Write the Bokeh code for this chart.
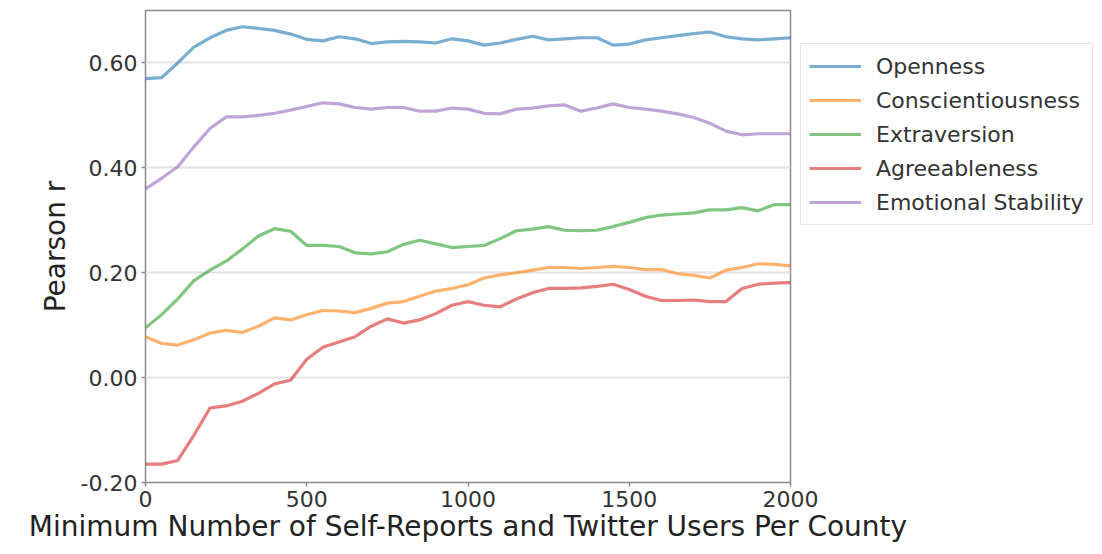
from bokeh.plotting import figure
from bokeh.models import Range1d, FixedTicker, PrintfTickFormatter, Legend, LegendItem
from bokeh.embed import file_html
from bokeh.resources import INLINE

x_vals = list(range(0, 2001, 50))

openness = [0.570, 0.572, 0.600, 0.630, 0.648, 0.662, 0.669, 0.666, 0.662, 0.655,
            0.645, 0.642, 0.650, 0.646, 0.637, 0.640, 0.641, 0.640, 0.638, 0.646,
            0.642, 0.634, 0.638, 0.645, 0.651, 0.644, 0.646, 0.648, 0.648, 0.634,
            0.636, 0.644, 0.648, 0.652, 0.656, 0.659, 0.650, 0.646, 0.644, 0.646, 0.648]

conscientiousness = [0.078, 0.065, 0.062, 0.072, 0.085, 0.090, 0.086, 0.098, 0.114, 0.110,
                     0.120, 0.128, 0.127, 0.124, 0.132, 0.142, 0.145, 0.155, 0.165, 0.170,
                     0.177, 0.190, 0.196, 0.200, 0.205, 0.210, 0.210, 0.208, 0.210, 0.212,
                     0.210, 0.206, 0.206, 0.198, 0.195, 0.190, 0.205, 0.210, 0.217, 0.216, 0.213]

extraversion = [0.095, 0.120, 0.150, 0.185, 0.205, 0.222, 0.245, 0.270, 0.284, 0.279,
                0.252, 0.252, 0.250, 0.238, 0.236, 0.240, 0.254, 0.262, 0.255, 0.248,
                0.250, 0.252, 0.265, 0.280, 0.283, 0.288, 0.281, 0.280, 0.281, 0.288,
                0.296, 0.305, 0.310, 0.312, 0.314, 0.320, 0.320, 0.324, 0.318, 0.330, 0.330]

agreeableness = [-0.165, -0.165, -0.158, -0.110, -0.058, -0.054, -0.045, -0.030, -0.012, -0.005,
                 0.035, 0.058, 0.068, 0.078, 0.098, 0.112, 0.104, 0.110, 0.122, 0.138,
                 0.145, 0.138, 0.135, 0.150, 0.162, 0.170, 0.170, 0.171, 0.174, 0.178,
                 0.168, 0.155, 0.147, 0.147, 0.148, 0.145, 0.145, 0.170, 0.178, 0.180, 0.181]

emotional_stability = [0.360, 0.380, 0.402, 0.440, 0.475, 0.497, 0.497, 0.500, 0.504, 0.510,
                       0.517, 0.524, 0.522, 0.515, 0.512, 0.515, 0.515, 0.508, 0.508, 0.514,
                       0.512, 0.504, 0.503, 0.512, 0.514, 0.518, 0.520, 0.508, 0.514, 0.522,
                       0.515, 0.512, 0.508, 0.503, 0.496, 0.485, 0.470, 0.463, 0.465, 0.465, 0.465]

series_names = ["Openness", "Conscientiousness", "Extraversion", "Agreeableness", "Emotional Stability"]
series_values = [openness, conscientiousness, extraversion, agreeableness, emotional_stability]
colors = ["#1f77b4", "#ff7f0e", "#2ca02c", "#d62728", "#9467bd"]

y_ticks = [-0.2, 0.0, 0.2, 0.4, 0.6]
x_ticks = [0, 500, 1000, 1500, 2000]

FONT = "DejaVu Sans"

p = figure(frame_width=645, frame_height=472, output_backend="svg", toolbar_location=None,
           x_range=Range1d(0, 2000), y_range=Range1d(-0.2, 0.7),
           min_border_left=145, min_border_top=10, min_border_right=300,
           min_border_bottom=68)

items = []
for name, vals, c in zip(series_names, series_values, colors):
    r = p.line(x_vals, vals, line_color=c, line_alpha=0.6, line_width=3.2)
    items.append(LegendItem(label=name, renderers=[r]))

p.xgrid.visible = False
p.ygrid.grid_line_color = "#e3e3e3"
p.ygrid.grid_line_width = 2
p.ygrid.ticker = FixedTicker(ticks=y_ticks)

p.outline_line_color = "#8a8a8a"
p.outline_line_width = 1.5

p.yaxis.ticker = FixedTicker(ticks=y_ticks)
p.xaxis.ticker = FixedTicker(ticks=x_ticks)
p.yaxis.formatter = PrintfTickFormatter(format="%.2f")

for ax in (p.xaxis, p.yaxis):
    ax.axis_line_color = None
    ax.major_tick_line_color = "#8a8a8a"
    ax.major_tick_line_width = 1.5
    ax.major_tick_in = 0
    ax.major_tick_out = 4
    ax.minor_tick_line_color = None
    ax.major_label_text_font = FONT
    ax.major_label_text_font_size = "22px"
    ax.major_label_text_color = "#333333"
    ax.axis_label_text_font = FONT
    ax.axis_label_text_font_style = "normal"
    ax.axis_label_text_color = "#222222"
    ax.axis_label_text_font_size = "28px"

p.yaxis.axis_label = "Pearson r"
p.yaxis.major_label_standoff = 4
p.yaxis.axis_label_standoff = 6
p.xaxis.axis_label = "Minimum Number of Self-Reports and Twitter Users Per County"
p.xaxis.major_label_standoff = 4
p.xaxis.axis_label_standoff = 0

legend = Legend(items=items, location=(10, 257))
legend.label_text_font = FONT
legend.label_text_font_size = "22px"
legend.label_text_color = "#333333"
legend.glyph_width = 52
legend.glyph_height = 28
legend.label_height = 28
legend.label_standoff = 15
legend.spacing = 6
legend.padding = 8
legend.margin = 0
legend.border_line_color = "#d0d0d0"
legend.border_line_width = 1.5
legend.background_fill_alpha = 0.8
p.add_layout(legend, "right")

open("out.html", "w").write(file_html(p, INLINE))
